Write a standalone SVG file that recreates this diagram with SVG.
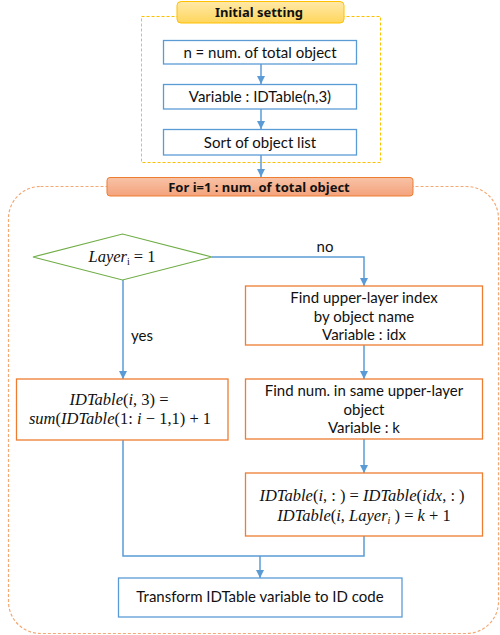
<svg xmlns="http://www.w3.org/2000/svg" width="500" height="635" viewBox="0 0 500 635">
<defs>
<linearGradient id="gy" x1="0" y1="0" x2="0" y2="1"><stop offset="0" stop-color="#FFE9A8"/><stop offset="1" stop-color="#FFD65C"/></linearGradient>
<linearGradient id="go" x1="0" y1="0" x2="0" y2="1"><stop offset="0" stop-color="#F8C2A6"/><stop offset="1" stop-color="#F3A37C"/></linearGradient>
<marker id="ah" viewBox="0 0 10 10" refX="10" refY="5" markerWidth="8" markerHeight="8" markerUnits="userSpaceOnUse" orient="auto"><path d="M0,0 L10,5 L0,10 z" fill="#5B9BD5"/></marker>
</defs>
<style>
.t{font-family:Lato,"Noto Sans",sans-serif;font-size:15px;fill:#111;text-anchor:middle}
.h{font-family:"Noto Sans","Open Sans",sans-serif;font-size:13px;font-weight:bold;fill:#111;text-anchor:middle}
.m{font-family:"Liberation Serif","DejaVu Serif",serif;font-size:16.5px;fill:#111;text-anchor:middle}
.it{font-style:italic}
.bb{fill:#fff;stroke:#5B9BD5;stroke-width:1.3}
.ob{fill:#fff;stroke:#ED7D31;stroke-width:1.3}
.c{fill:none;stroke:#5B9BD5;stroke-width:1.5}
</style>
<g id="initial-group">
<rect x="141.5" y="16.5" width="239" height="146" fill="none" stroke="#FFC000" stroke-width="1" stroke-dasharray="3,2"/>
</g>
<g id="loop-group">
<rect x="8.5" y="186.5" width="490" height="447" rx="32" fill="none" stroke="#F4A873" stroke-width="1.2" stroke-dasharray="3,2"/>
</g>
<g id="connectors">
<line class="c" x1="261" y1="64" x2="261" y2="84" marker-end="url(#ah)"/>
<line class="c" x1="261" y1="109" x2="261" y2="129" marker-end="url(#ah)"/>
<line class="c" x1="261" y1="155" x2="261" y2="177" marker-end="url(#ah)"/>
<polyline class="c" points="212,257 364,257 364,286" marker-end="url(#ah)"/>
<line class="c" x1="123" y1="280" x2="123" y2="379" marker-end="url(#ah)"/>
<line class="c" x1="364" y1="345" x2="364" y2="379" marker-end="url(#ah)"/>
<line class="c" x1="364" y1="439" x2="364" y2="473" marker-end="url(#ah)"/>
<polyline class="c" points="123,440 123,556 364,556 364,536"/>
<line class="c" x1="260" y1="556" x2="260" y2="578" marker-end="url(#ah)"/>
<text class="t" x="325" y="252">no</text>
<text class="t" x="142" y="341">yes</text>
</g>
<g id="header-initial">
<rect x="177" y="1.5" width="167" height="21.5" rx="4" fill="url(#gy)" stroke="#FFC000" stroke-width="1"/>
<text class="h" x="259" y="17">Initial setting</text>
</g>
<g id="n-total">
<rect class="bb" x="163.5" y="40.5" width="193" height="23.5"/>
<text class="t" x="260" y="57.5">n = num. of total object</text>
</g>
<g id="variable-idtable">
<rect class="bb" x="163.5" y="84.5" width="193" height="24.5"/>
<text class="t" x="260" y="102">Variable : IDTable(n,3)</text>
</g>
<g id="sort-list">
<rect class="bb" x="163.5" y="129.5" width="193" height="25.5"/>
<text class="t" x="260" y="148">Sort of object list</text>
</g>
<g id="header-loop">
<rect x="107" y="177.5" width="306" height="18.5" rx="3" fill="url(#go)" stroke="#ED7D31" stroke-width="1"/>
<text class="h" x="259" y="192">For i=1 : num. of total object</text>
</g>
<g id="decision">
<polygon points="33,257 122.5,234 212,257 122.5,280" fill="#fff" stroke="#70AD47" stroke-width="1.2"/>
<text class="m" x="122" y="262"><tspan class="it">Layer</tspan><tspan font-size="10" dy="3">i</tspan><tspan dy="-3">  =  1</tspan></text>
</g>
<g id="find-upper">
<rect class="ob" x="245.5" y="286" width="237" height="59"/>
<text class="t" x="364" y="303">Find upper-layer index</text>
<text class="t" x="364" y="321.5">by object name</text>
<text class="t" x="364" y="340">Variable : idx</text>
</g>
<g id="find-num">
<rect class="ob" x="245.5" y="379" width="237" height="60"/>
<text class="t" x="364" y="396">Find num. in same upper-layer</text>
<text class="t" x="364" y="414.5">object</text>
<text class="t" x="364" y="433">Variable : k</text>
</g>
<g id="idtable-sum">
<rect class="ob" x="16.5" y="379" width="211.5" height="61"/>
<text class="m" x="119" y="405"><tspan class="it">IDTable</tspan>(<tspan class="it">i</tspan>, 3) =</text>
<text class="m" x="120" y="424"><tspan class="it">sum</tspan>(<tspan class="it">IDTable</tspan>(1: <tspan class="it">i</tspan>  −  1,1)  +  1</text>
</g>
<g id="idtable-assign">
<rect class="ob" x="245.5" y="473" width="237" height="63"/>
<text class="m" x="362" y="501"><tspan class="it">IDTable</tspan>(<tspan class="it">i</tspan>, : ) = <tspan class="it">IDTable</tspan>(<tspan class="it">idx</tspan>, : )</text>
<text class="m" x="364" y="521"><tspan class="it">IDTable</tspan>(<tspan class="it">i</tspan>, <tspan class="it">Layer</tspan><tspan class="it" font-size="10" dy="3">i</tspan><tspan dy="-3"> ) = </tspan><tspan class="it">k</tspan>  +  1</text>
</g>
<g id="transform">
<rect class="bb" x="118.5" y="578" width="283.5" height="39"/>
<text class="t" x="260" y="602">Transform IDTable variable to ID code</text>
</g>
</svg>
